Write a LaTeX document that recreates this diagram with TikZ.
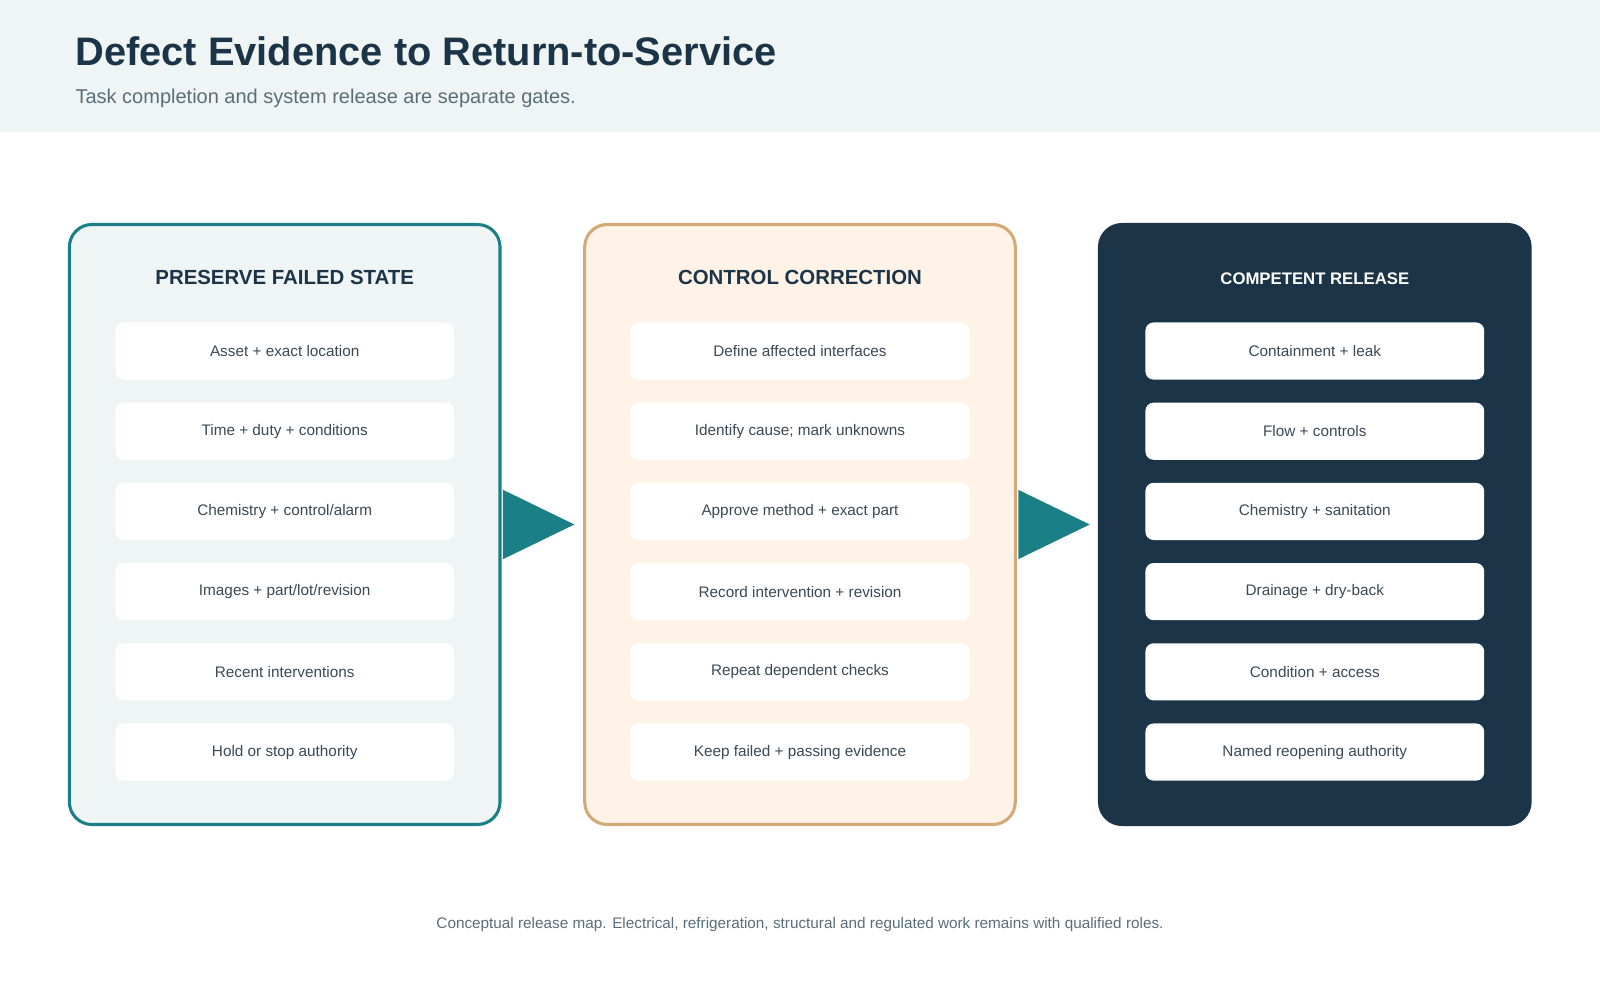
\documentclass[tikz,border=0pt]{standalone}
\usepackage{fontspec}
\setmainfont{Liberation Sans}
\usetikzlibrary{positioning}
\definecolor{ink}{HTML}{1B3447}
\definecolor{slate}{HTML}{5A6E78}
\definecolor{teal}{HTML}{1A7F86}
\definecolor{mist}{HTML}{EEF5F4}
\definecolor{sand}{HTML}{D4A978}
\definecolor{cream}{HTML}{FFF3E8}
\definecolor{itemtxt}{HTML}{3A4A55}
\tikzset{
  panel/.style={rounded corners=11pt, minimum width=211pt, minimum height=294pt, line width=1.5pt},
  head/.style={font=\bfseries\fontsize{10}{12}\selectfont, text=ink},
  item/.style={fill=white, rounded corners=4pt, minimum width=166pt, minimum height=28pt,
    text=itemtxt, font=\fontsize{7.5}{9}\selectfont},
  gate/.style={fill=teal}
}
\begin{document}
\begin{tikzpicture}[x=0.5pt,y=-0.5pt]
  \useasboundingbox (0,0) rectangle (1568,980);
  \fill[mist] (0,0) rectangle (1568,129);
  \node[anchor=west, text=ink, font=\bfseries\fontsize{19.5}{22}\selectfont] (title) at (67,50) {Defect Evidence to Return-to-Service};
  \node[anchor=west, text=slate, font=\fontsize{9.8}{12}\selectfont] (sub) at (67,96) {Task completion and system release are separate gates.};

  \node[panel, draw=teal, fill=mist] (lp) at (279,514) {};
  \node[panel, draw=sand, fill=cream] (mp) at (784,514) {};
  \node[panel, draw=ink, fill=ink] (rp) at (1288.5,514) {};

  \node[head] (lh) at (279,272) {PRESERVE FAILED STATE};
  \node[head] (mh) at (784,272) {CONTROL CORRECTION};
  \node[head, text=white, font=\bfseries\fontsize{8.2}{10}\selectfont] (rh) at (1288.5,273) {COMPETENT RELEASE};

  \foreach \t [count=\i] in {Asset + exact location, Time + duty + conditions, Chemistry + control/alarm,
      Images + part/lot/revision, Recent interventions, Hold or stop authority}
    \node[item] (l\i) at (279,{344+78.6*(\i-1)}) {\t};
  \foreach \t [count=\i] in {Define affected interfaces, Identify cause; mark unknowns, Approve method + exact part,
      Record intervention + revision, Repeat dependent checks, Keep failed + passing evidence}
    \node[item] (m\i) at (784,{344+78.6*(\i-1)}) {\t};
  \foreach \t [count=\i] in {Containment + leak, Flow + controls, Chemistry + sanitation,
      Drainage + dry-back, Condition + access, Named reopening authority}
    \node[item] (r\i) at (1288.5,{344+78.6*(\i-1)}) {\t};

  % gates between panels
  \fill[gate] ([xshift=0.7pt]lp.east) ++(0,-34) -- ++(70,34) -- ++(-70,34) -- cycle;
  \fill[gate] ([xshift=0.7pt]mp.east) ++(0,-34) -- ++(70,34) -- ++(-70,34) -- cycle;

  \node[text=slate, font=\fontsize{7.5}{9}\selectfont] (foot) at (784,906) {Conceptual release map. Electrical, refrigeration, structural and regulated work remains with qualified roles.};
\end{tikzpicture}
\end{document}
